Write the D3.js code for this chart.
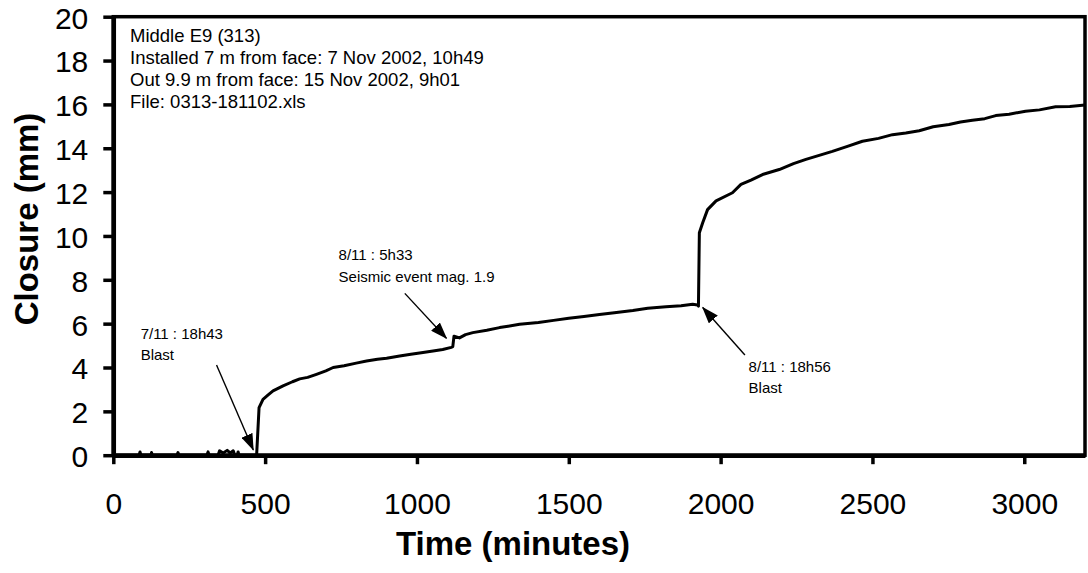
<!DOCTYPE html>
<html>
<head>
  <meta charset="utf-8">
  <script src="https://d3js.org/d3.v7.min.js"></script>
  <style>
    body { margin: 0; background: #fff; }
    svg { display: block; font-family: Arial, 'Liberation Sans', Helvetica, sans-serif; }
    .tickLbl { font-size: 30px; fill: #000; }
    .axisTitle { font-size: 33px; font-weight: bold; fill: #000; }
    .info { font-size: 18.5px; fill: #000; }
    .note { font-size: 15px; fill: #000; }
  </style>
</head>
<body>
  <svg id="chart" width="1088" height="573"></svg>

  <script>
    // ----
    // DATA
    // ----
    // time (minutes) and closure (mm)
    const timeMin = [0, 85, 88, 91, 124, 126, 128, 210, 213, 216, 308, 312, 316, 345, 350, 362, 375, 385, 395, 400, 408, 411, 414, 472,
      480, 493, 510, 526, 559, 590, 614, 640, 669, 700, 724, 760, 800, 834, 870, 900, 943, 980, 1020, 1053, 1085, 1113, 1118,
      1122, 1140, 1160, 1184, 1230, 1272, 1300, 1338, 1400, 1450, 1500, 1550, 1601, 1650, 1711, 1760, 1820, 1870, 1908, 1924, 1927,
      1930, 1941, 1957, 1985, 2039, 2067, 2100, 2138, 2193, 2240, 2281, 2330, 2368, 2420, 2467, 2520, 2566, 2610, 2654, 2700,
      2752, 2790, 2829, 2870, 2906, 2950, 3004, 3050, 3103, 3150, 3200];
    const closureMm = [0, 0, 0.15, 0, 0, 0.12, 0, 0, 0.12, 0, 0, 0.15, 0, 0, 0.2, 0.1, 0.22, 0.1, 0.2, 0, 0, 0.15, 0, 0,
      2.17, 2.55, 2.75, 2.93, 3.16, 3.35, 3.48, 3.55, 3.69, 3.85, 4.0, 4.08, 4.2, 4.3, 4.38, 4.42, 4.52, 4.6, 4.68, 4.75, 4.82, 4.92, 4.95,
      5.43, 5.35, 5.5, 5.59, 5.7, 5.82, 5.88, 5.97, 6.05, 6.15, 6.25, 6.33, 6.42, 6.5, 6.6, 6.7, 6.77, 6.82, 6.88, 6.85, 6.8,
      10.15, 10.6, 11.2, 11.6, 11.97, 12.35, 12.55, 12.8, 13.03, 13.3, 13.49, 13.7, 13.86, 14.1, 14.32, 14.45, 14.62, 14.7, 14.8, 14.98,
      15.08, 15.2, 15.28, 15.35, 15.49, 15.55, 15.69, 15.75, 15.89, 15.9, 15.97];

    const xTicks = [0, 500, 1000, 1500, 2000, 2500, 3000];
    const yTicks = [0, 2, 4, 6, 8, 10, 12, 14, 16, 18, 20];

    const infoLines = [
      "Middle E9 (313)",
      "Installed 7 m from face: 7 Nov 2002, 10h49",
      "Out 9.9 m from face: 15 Nov 2002, 9h01",
      "File: 0313-181102.xls"
    ];

    // annotations: text lines, arrow start and arrow tip in data units
    const noteLines = [["7/11 : 18h43", "Blast"], ["8/11 : 5h33", "Seismic event mag. 1.9"], ["8/11 : 18h56", "Blast"]];
    const noteTextAt = [[90, 5.3], [742, 8.9], [2092, 3.8]];
    const arrowFrom = [[340, 4.11], [960, 7.38], [2080, 4.57]];
    const arrowTo = [[461, 0.24], [1097, 5.33], [1941, 6.74]];

    // ----------
    // DIMENSIONS
    // ----------
    const svg = d3.select("svg#chart");
    const plotLeft = 113.3, plotRight = 1085, plotTop = 16.7, plotBottom = 455.2;

    // ======
    // SCALES
    // ======
    const x = d3.scaleLinear().domain([0, 3200]).range([plotLeft, plotRight]);
    const y = d3.scaleLinear().domain([0, 20]).range([plotBottom, plotTop]);

    // arrow head
    svg.append("defs").append("marker")
      .attr("id", "head")
      .attr("markerUnits", "userSpaceOnUse")
      .attr("markerWidth", 17).attr("markerHeight", 12)
      .attr("refX", 16).attr("refY", 6)
      .attr("orient", "auto")
      .append("path")
      .attr("d", "M0,0 L17,6 L0,12 Z")
      .attr("fill", "#000");

    // plot frame (top + right)
    svg.append("rect")
      .attr("x", plotLeft).attr("y", plotTop)
      .attr("width", plotRight - plotLeft).attr("height", plotBottom - plotTop)
      .attr("fill", "none").attr("stroke", "#000").attr("stroke-width", 3.5);

    // ======
    //  AXES
    // ======
    const xAxis = d3.axisBottom(x).tickValues(xTicks).tickFormat(d3.format("d"))
      .tickSize(9).tickSizeOuter(0).tickPadding(29);
    const gx = svg.append("g")
      .attr("transform", `translate(0,${plotBottom})`)
      .call(xAxis);
    gx.select(".domain").attr("stroke-width", 4.5);
    gx.selectAll(".tick line").attr("stroke-width", 3.5);
    gx.selectAll(".tick text").attr("class", "tickLbl");

    const yAxis = d3.axisLeft(y).tickValues(yTicks).tickFormat(d3.format("d"))
      .tickSize(10).tickSizeOuter(0).tickPadding(15);
    const gy = svg.append("g")
      .attr("transform", `translate(${plotLeft},0)`)
      .call(yAxis);
    gy.select(".domain").attr("stroke-width", 4.5);
    gy.selectAll(".tick line").attr("stroke-width", 3.5);
    gy.selectAll(".tick text").attr("class", "tickLbl").attr("dy", "0.38em");
    gx.attr("font-size", null).attr("font-family", null);
    gy.attr("font-size", null).attr("font-family", null);

    // axis titles
    svg.append("text")
      .attr("class", "axisTitle")
      .attr("x", 513).attr("y", 555)
      .attr("text-anchor", "middle")
      .text("Time (minutes)");
    svg.append("text")
      .attr("class", "axisTitle")
      .attr("transform", "translate(37.5,219) rotate(-90)")
      .attr("text-anchor", "middle")
      .text("Closure (mm)");

    // ======
    //  LINE
    // ======
    const pts = timeMin.map((t, i) => [t, closureMm[i]]);
    svg.append("path")
      .datum(pts)
      .attr("fill", "none")
      .attr("stroke", "#000")
      .attr("stroke-width", 3)
      .attr("stroke-linejoin", "round")
      .attr("d", d3.line().x(d => x(d[0])).y(d => y(d[1])));

    // info block
    svg.append("g").selectAll("text")
      .data(infoLines)
      .join("text")
      .attr("class", "info")
      .attr("x", 130)
      .attr("y", (d, i) => 42 + i * 22)
      .text(d => d);

    // annotations
    noteLines.forEach((lines, k) => {
      svg.append("line")
        .attr("x1", x(arrowFrom[k][0])).attr("y1", y(arrowFrom[k][1]))
        .attr("x2", x(arrowTo[k][0])).attr("y2", y(arrowTo[k][1]))
        .attr("stroke", "#000").attr("stroke-width", 1.4)
        .attr("marker-end", "url(#head)");
      svg.append("g").selectAll("text")
        .data(lines)
        .join("text")
        .attr("class", "note")
        .attr("x", x(noteTextAt[k][0]))
        .attr("y", (d, i) => y(noteTextAt[k][1]) + i * 21.5)
        .text(d => d);
    });
  </script>
</body>
</html>
